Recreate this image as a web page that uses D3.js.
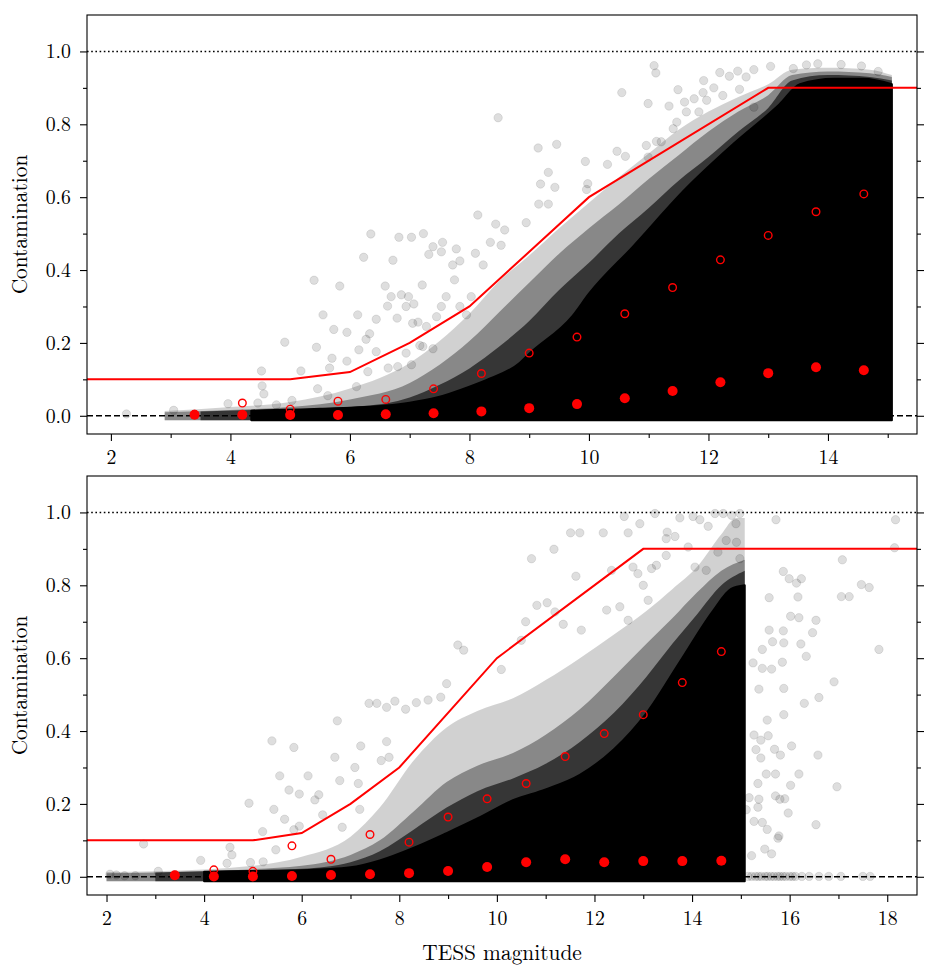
<!DOCTYPE html>
<html lang="en">
<head>
<meta charset="UTF-8">
<title>Contamination vs TESS magnitude</title>
<script src="https://d3js.org/d3.v7.min.js"></script>
<style>
    body { margin: 0; background: #fff; }
</style>
</head>
<body>
<script>
    const width  = 932;
    const height = 975;
    const font = "'Latin Modern Roman', 'CMU Serif', 'Liberation Serif', serif";

    // bin centres and binned statistics (filled = median, open = upper percentile)
    const binMag    = [3.4, 4.2, 5.0, 5.8, 6.6, 7.4, 8.2, 9.0, 9.8, 10.6, 11.4, 12.2, 13.0, 13.8, 14.6];
    const topMedian = [0.003, 0.003, 0.002, 0.002, 0.004, 0.007, 0.012, 0.021, 0.032, 0.048, 0.068, 0.092, 0.117, 0.133, 0.125];
    const topUpper  = [0.004, 0.035, 0.018, 0.040, 0.045, 0.074, 0.116, 0.172, 0.216, 0.280, 0.352, 0.428, 0.495, 0.560, 0.609];
    const botMedian = [0.004, 0.001, 0.001, 0.002, 0.005, 0.007, 0.010, 0.016, 0.027, 0.040, 0.048, 0.040, 0.043, 0.043, 0.044];
    const botUpper  = [0.004, 0.019, 0.015, 0.085, 0.048, 0.116, 0.095, 0.164, 0.214, 0.256, 0.330, 0.393, 0.445, 0.533, 0.618];

    // contamination limit (red line)
    const limitMag = [1, 5, 6, 7, 8, 10, 13, 19];
    const limitVal = [0.1, 0.1, 0.12, 0.2, 0.3, 0.6, 0.9, 0.9];

    const xTicksTop = [2, 4, 6, 8, 10, 12, 14];
    const xTicksBot = [2, 4, 6, 8, 10, 12, 14, 16, 18];
    const yTicks    = [0, 0.2, 0.4, 0.6, 0.8, 1.0];

    // envelopes of the dense star cloud, light fringe to saturated core: [mag, contamination]
    const topOuter = [[2.9,0.013],[4.0,0.024],[5.0,0.038],[6.0,0.075],[7.0,0.145],[7.5,0.205],[8.0,0.28],[8.5,0.37],[9.0,0.44],[9.5,0.515],[10.0,0.585],[10.5,0.655],[11.0,0.72],[11.5,0.785],[12.0,0.835],[12.5,0.875],[13.0,0.91],[13.4,0.95],[14.0,0.955],[14.7,0.95],[15.07,0.935]];
    const topMid   = [[2.9,0.010],[4.0,0.016],[5.0,0.024],[6.0,0.045],[7.0,0.09],[7.5,0.14],[8.0,0.205],[8.5,0.285],[9.0,0.365],[9.5,0.445],[10.0,0.515],[10.5,0.58],[11.0,0.65],[11.5,0.715],[12.0,0.78],[12.5,0.835],[13.0,0.88],[13.4,0.935],[14.0,0.945],[14.7,0.94],[15.07,0.93]];
    const topDark  = [[3.5,0.012],[4.35,0.016],[5.5,0.021],[6.6,0.034],[7.0,0.05],[7.5,0.085],[8.0,0.13],[8.5,0.19],[9.0,0.26],[9.5,0.345],[10.0,0.42],[10.5,0.5],[11.0,0.57],[11.5,0.645],[12.0,0.71],[12.5,0.78],[13.0,0.845],[13.4,0.92],[14.0,0.935],[14.7,0.93],[15.07,0.92]];
    const topCore  = [[4.35,0.014],[5.5,0.019],[6.6,0.028],[7.0,0.036],[7.45,0.05],[8.0,0.08],[8.28,0.098],[8.84,0.145],[9.0,0.17],[9.73,0.275],[10.0,0.335],[10.74,0.465],[11.63,0.625],[12.41,0.745],[13.19,0.855],[13.53,0.91],[14.1,0.925],[14.6,0.925],[15.07,0.91]];

    const botOuter = [[2.0,0.013],[3.0,0.015],[5.0,0.03],[6.0,0.055],[7.0,0.11],[7.6,0.19],[8.3,0.32],[8.97,0.41],[9.6,0.455],[10.33,0.49],[11.0,0.54],[11.7,0.60],[12.4,0.665],[13.07,0.73],[13.6,0.79],[14.1,0.85],[14.6,0.94],[14.9,0.985],[15.08,0.985]];
    const botMid   = [[2.0,0.010],[3.0,0.012],[5.0,0.021],[6.0,0.03],[7.0,0.06],[7.6,0.10],[8.3,0.18],[8.97,0.26],[9.6,0.305],[10.33,0.34],[11.0,0.39],[11.7,0.46],[12.4,0.55],[13.07,0.64],[13.6,0.71],[14.1,0.78],[14.6,0.84],[15.08,0.87]];
    const botDark  = [[3.0,0.012],[4.0,0.015],[5.0,0.018],[6.0,0.022],[7.0,0.04],[7.6,0.07],[8.3,0.13],[8.97,0.19],[9.6,0.235],[10.33,0.27],[11.0,0.31],[11.7,0.37],[12.4,0.45],[13.07,0.55],[13.6,0.64],[14.1,0.72],[14.6,0.80],[15.08,0.84]];
    const botCore  = [[4.0,0.014],[5.0,0.016],[6.0,0.018],[7.0,0.026],[7.6,0.045],[8.3,0.08],[8.97,0.12],[9.6,0.16],[10.33,0.21],[11.0,0.24],[11.7,0.28],[12.4,0.35],[13.07,0.45],[13.75,0.59],[14.43,0.73],[14.8,0.79],[15.08,0.80]];

    // individual stars outside the dense cloud: [mag, contamination]
    const topStars = [[2.26,0.005],[3.05,0.015],[3.96,0.033],[4.46,0.035],[4.52,0.123],[4.53,0.082],[4.56,0.060],[4.77,0.030],[4.91,0.202],[5.03,0.042],
        [5.18,0.123],[5.40,0.372],[5.44,0.188],[5.46,0.074],[5.55,0.277],[5.63,0.055],[5.66,0.131],[5.70,0.158],[5.73,0.237],[5.83,0.356],
        [5.95,0.229],[5.95,0.150],[6.11,0.080],[6.13,0.277],[6.15,0.181],[6.23,0.435],[6.27,0.210],[6.30,0.121],[6.33,0.225],[6.35,0.499],
        [6.44,0.265],[6.44,0.176],[6.59,0.356],[6.63,0.301],[6.64,0.131],[6.69,0.327],[6.72,0.427],[6.79,0.268],[6.80,0.135],[6.82,0.490],
        [6.86,0.332],[6.94,0.300],[6.94,0.172],[6.98,0.327],[7.03,0.490],[7.03,0.140],[7.05,0.254],[7.07,0.307],[7.14,0.257],[7.17,0.193],
        [7.21,0.359],[7.22,0.190],[7.23,0.500],[7.28,0.245],[7.32,0.443],[7.39,0.464],[7.39,0.184],[7.45,0.272],[7.53,0.450],[7.53,0.300],
        [7.55,0.476],[7.61,0.327],[7.72,0.414],[7.75,0.373],[7.78,0.458],[7.84,0.425],[7.84,0.300],[7.95,0.277],[8.03,0.327],[8.10,0.446],
        [8.14,0.551],[8.23,0.414],[8.35,0.476],[8.44,0.526],[8.48,0.818],[8.53,0.468],[8.59,0.510],[8.95,0.530],[9.15,0.735],[9.16,0.581],
        [9.19,0.636],[9.32,0.668],[9.32,0.581],[9.43,0.627],[9.46,0.745],[9.94,0.698],[9.96,0.621],[9.98,0.637],[10.31,0.690],[10.47,0.726],
        [10.55,0.887],[10.61,0.712],[10.96,0.742],[10.99,0.857],[10.99,0.710],[11.09,0.961],[11.12,0.941],[11.13,0.753],[11.21,0.752],[11.34,0.850],
        [11.41,0.788],[11.47,0.806],[11.49,0.895],[11.60,0.861],[11.63,0.834],[11.76,0.870],[11.84,0.834],[11.91,0.887],[11.92,0.920],[11.97,0.866],
        [12.09,0.900],[12.19,0.942],[12.24,0.879],[12.35,0.932],[12.49,0.946],[12.52,0.896],[12.63,0.930],[12.76,0.950],[12.76,0.847],[13.04,0.959],
        [13.42,0.953],[13.64,0.963],[13.83,0.966],[14.22,0.964],[14.56,0.960],[14.84,0.945]];

    const botStars = [[2.07,0.007],[2.20,0.005],[2.37,0.003],[2.59,0.003],[2.76,0.090],[3.06,0.015],[3.93,0.045],[4.47,0.037],[4.53,0.081],[4.57,0.060],
        [4.92,0.202],[4.95,0.039],[5.20,0.124],[5.21,0.041],[5.39,0.373],[5.43,0.185],[5.47,0.074],[5.55,0.277],[5.65,0.158],[5.74,0.238],
        [5.84,0.355],[5.84,0.129],[5.95,0.227],[5.95,0.139],[6.13,0.277],[6.27,0.211],[6.35,0.225],[6.43,0.170],[6.68,0.328],[6.73,0.428],
        [6.78,0.264],[6.83,0.136],[7.09,0.300],[7.16,0.256],[7.21,0.359],[7.19,0.185],[7.38,0.476],[7.54,0.476],[7.63,0.319],[7.74,0.465],
        [7.91,0.482],[7.74,0.371],[7.79,0.328],[8.13,0.460],[8.35,0.478],[8.59,0.485],[8.85,0.493],[8.97,0.530],[9.20,0.636],[9.32,0.622],
        [10.09,0.569],[10.50,0.649],[10.59,0.700],[10.71,0.873],[10.82,0.745],[11.03,0.752],[11.17,0.899],[11.19,0.727],[11.36,0.693],[11.51,0.944],
        [11.62,0.825],[11.70,0.944],[11.73,0.677],[12.18,0.944],[12.25,0.732],[12.35,0.841],[12.52,0.741],[12.61,0.989],[12.69,0.944],[12.69,0.704],
        [12.79,0.850],[12.89,0.832],[12.93,0.969],[13.00,0.800],[13.10,0.759],[13.17,0.846],[13.24,0.997],[13.27,0.855],[13.47,0.928],[13.47,0.882],
        [13.49,0.946],[13.65,0.934],[13.75,0.985],[13.92,0.905],[14.02,0.989],[14.06,0.850],[14.16,0.980],[14.29,0.841],[14.33,0.962],[14.47,0.997],
        [14.53,0.891],[14.64,0.997],[14.70,0.923],[14.81,0.992],[14.90,0.969],[14.91,0.918],[14.98,0.997],[14.98,0.873],
        [15.72,0.980],[18.17,0.980],[18.15,0.903],[17.08,0.870],[15.87,0.838],[15.99,0.818],[16.24,0.818],[16.14,0.806],[15.58,0.766],[16.17,0.768],
        [17.06,0.769],[17.22,0.769],[17.47,0.802],[17.63,0.794],[16.02,0.715],[16.19,0.711],[16.54,0.704],[15.58,0.677],[15.87,0.675],[16.47,0.670],
        [15.65,0.645],[15.88,0.642],[16.23,0.639],[16.34,0.605],[17.83,0.624],[15.44,0.624],[15.25,0.587],[15.44,0.572],[15.63,0.570],[15.85,0.589],
        [16.91,0.535],[15.37,0.515],[15.88,0.517],[16.60,0.492],[16.30,0.476],[15.54,0.430],[15.88,0.445],[15.27,0.389],[15.41,0.375],[15.56,0.387],
        [16.04,0.359],[15.69,0.350],[15.81,0.334],[15.31,0.349],[16.58,0.334],[15.41,0.326],[16.19,0.282],[15.52,0.282],[15.71,0.282],[15.35,0.256],
        [16.97,0.247],[16.02,0.251],[15.71,0.222],[15.90,0.214],[15.80,0.213],[15.37,0.213],[15.17,0.217],[15.97,0.175],[15.11,0.184],[15.35,0.191],
        [15.27,0.152],[15.44,0.149],[16.54,0.143],[15.54,0.130],[15.78,0.112],[15.76,0.106],[15.49,0.076],[15.63,0.063],[15.22,0.058],
        [15.15,0.001],[15.22,0.001],[15.30,0.001],[15.36,0.001],[15.42,0.001],[15.50,0.001],[15.55,0.001],[15.62,0.001],[15.68,0.001],[15.75,0.001],
        [15.80,0.001],[15.86,0.001],[15.92,0.001],[16.00,0.001],[16.06,0.001],[16.12,0.001],[16.25,0.001],[16.40,0.001],[16.60,0.001],[16.80,0.001],
        [17.05,0.001],[17.50,0.001],[17.65,0.001]];

    const panels = [
        {id: 'top', top: 15,  bottom: 434, xMax: 15.49, xTicks: xTicksTop,
         layers: [[topOuter, 0.18], [topMid, 0.35], [topDark, 0.6], [topCore, 1]],
         stars: topStars, median: topMedian, upper: topUpper, xLabel: false},
        {id: 'bot', top: 476, bottom: 895, xMax: 18.61, xTicks: xTicksBot,
         layers: [[botOuter, 0.18], [botMid, 0.35], [botDark, 0.6], [botCore, 1]],
         stars: botStars, median: botMedian, upper: botUpper, xLabel: true}
    ];

    const left = 87, right = 917;

    const svg = d3.select("body").append("svg").attr("width", width).attr("height", height);
    svg.append("rect").attr("width", width).attr("height", height).attr("fill", "#fff");

    panels.forEach(draw);

    function draw(p) {
        const x = d3.scaleLinear().domain([1.6, p.xMax]).range([left, right]);
        const y = d3.scaleLinear().domain([-0.05, 1.1]).range([p.bottom, p.top]);

        svg.append("clipPath").attr("id", "clip-" + p.id)
            .append("rect").attr("x", left).attr("y", p.top)
            .attr("width", right - left).attr("height", p.bottom - p.top);

        const g = svg.append("g").attr("clip-path", "url(#clip-" + p.id + ")");

        const area = d3.area()
            .x(d => x(d[0]))
            .y0(y(-0.012))
            .y1(d => y(d[1]))
            .curve(d3.curveMonotoneX);

        // dense cloud as stacked translucent envelopes
        p.layers.forEach(l => {
            g.append("path").attr("d", area(l[0]))
                .attr("fill", "#000").attr("fill-opacity", l[1])
                .attr("stroke", l[1] === 1 ? "#000" : "none").attr("stroke-width", 2)
                .attr("stroke-linejoin", "round");
        });

        g.selectAll(".star")
            .data(p.stars)
            .enter()
            .append("circle").attr("class", "star")
            .attr("cx", d => x(d[0]))
            .attr("cy", d => y(d[1]))
            .attr("r", 4.2)
            .attr("fill", "#000").attr("fill-opacity", 0.13)
            .attr("stroke", "#000").attr("stroke-opacity", 0.12).attr("stroke-width", 0.8);

        // reference levels
        g.append("line")
            .attr("x1", left).attr("x2", right).attr("y1", y(1)).attr("y2", y(1))
            .attr("stroke", "#000").attr("stroke-width", 1.6).attr("stroke-dasharray", "1.6,2.6");
        g.append("line")
            .attr("x1", left).attr("x2", right).attr("y1", y(0)).attr("y2", y(0))
            .attr("stroke", "#000").attr("stroke-width", 1.6).attr("stroke-dasharray", "6,3");

        const line = d3.line().x((d, i) => x(limitMag[i])).y(d => y(d));
        g.append("path")
            .attr("d", line(limitVal))
            .attr("fill", "none").attr("stroke", "#ff0000").attr("stroke-width", 2);

        g.selectAll(".upper")
            .data(p.upper)
            .enter()
            .append("circle").attr("class", "upper")
            .attr("cx", (d, i) => x(binMag[i]))
            .attr("cy", d => y(d))
            .attr("r", 3.8)
            .attr("fill", "none").attr("stroke", "#ff0000").attr("stroke-width", 1.4);

        g.selectAll(".median")
            .data(p.median)
            .enter()
            .append("circle").attr("class", "median")
            .attr("cx", (d, i) => x(binMag[i]))
            .attr("cy", d => y(d))
            .attr("r", 5)
            .attr("fill", "#ff0000");

        // axes
        const xMinor = d3.range(1, Math.floor(p.xMax) + 1, 2).filter(v => v > 1.6);
        const yMinor = d3.range(1, 11, 2).map(v => v / 10);

        const axes = svg.append("g").attr("class", "axes");

        axes.append("g").attr("transform", "translate(0," + p.bottom + ")")
            .call(d3.axisBottom(x).tickValues(p.xTicks).tickSize(7).tickPadding(8.5).tickFormat(d3.format("d")));
        axes.append("g").attr("transform", "translate(0," + p.bottom + ")")
            .call(d3.axisBottom(x).tickValues(xMinor).tickSize(4).tickFormat(""));

        axes.append("g").attr("transform", "translate(" + left + ",0)")
            .call(d3.axisLeft(y).tickValues(yTicks).tickSize(7).tickPadding(9).tickFormat(d3.format(".1f")));
        axes.append("g").attr("transform", "translate(" + left + ",0)")
            .call(d3.axisLeft(y).tickValues(yMinor).tickSize(4).tickFormat(""));

        axes.append("g").attr("transform", "translate(" + right + ",0)")
            .call(d3.axisRight(y).tickValues(yTicks).tickSize(7).tickFormat(""));
        axes.append("g").attr("transform", "translate(" + right + ",0)")
            .call(d3.axisRight(y).tickValues(yMinor).tickSize(4).tickFormat(""));

        axes.selectAll(".domain").remove();
        axes.selectAll(".tick line").attr("stroke", "#000").attr("stroke-width", 1.1);
        axes.selectAll(".tick text")
            .style("font-family", font).style("font-size", "19.8px").style("fill", "#000");

        axes.append("rect")
            .attr("x", left).attr("y", p.top)
            .attr("width", right - left).attr("height", p.bottom - p.top)
            .attr("fill", "none").attr("stroke", "#000").attr("stroke-width", 1.1);

        axes.append("text")
            .text("Contamination")
            .style("font-family", font).style("font-size", "21.4px").style("fill", "#000")
            .attr("text-anchor", "middle")
            .attr("transform", "translate(26.5," + (p.top + p.bottom) / 2 + ") rotate(-90)");

        if (p.xLabel) {
            axes.append("text")
                .text("TESS magnitude")
                .style("font-family", font).style("font-size", "21.4px").style("fill", "#000")
                .attr("text-anchor", "middle")
                .attr("x", (left + right) / 2)
                .attr("y", 960);
        }
    }
</script>
</body>
</html>
